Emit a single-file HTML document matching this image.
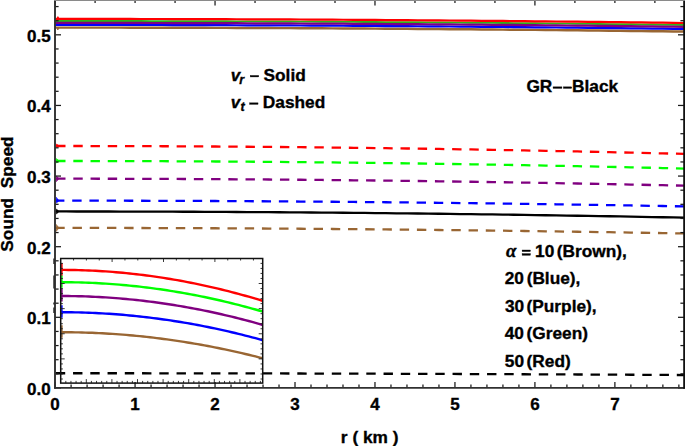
<!DOCTYPE html>
<html><head><meta charset="utf-8"><style>html,body{margin:0;padding:0;background:#fff;}svg{display:block;}</style></head>
<body><svg width="685" height="446" viewBox="0 0 685 446">
<rect width="685" height="446" fill="#fff"/>
<g><polyline points="55.50,27.60 66.15,27.60 76.81,27.60 87.46,27.61 98.11,27.62 108.76,27.63 119.42,27.64 130.07,27.66 140.72,27.67 151.37,27.69 162.03,27.71 172.68,27.74 183.33,27.76 193.98,27.79 204.64,27.82 215.29,27.86 225.94,27.89 236.59,27.93 247.25,27.97 257.90,28.01 268.55,28.06 279.20,28.10 289.86,28.15 300.51,28.20 311.16,28.26 321.81,28.31 332.47,28.37 343.12,28.43 353.77,28.49 364.42,28.56 375.08,28.62 385.73,28.69 396.38,28.77 407.03,28.84 417.69,28.92 428.34,28.99 438.99,29.07 449.64,29.16 460.30,29.24 470.95,29.33 481.60,29.42 492.25,29.51 502.91,29.61 513.56,29.70 524.21,29.80 534.86,29.90 545.52,30.01 556.17,30.11 566.82,30.22 577.47,30.33 588.13,30.44 598.78,30.56 609.43,30.68 620.08,30.79 630.74,30.92 641.39,31.04 652.04,31.17 662.69,31.29 673.35,31.43 684.00,31.56" fill="none" stroke="#996633" stroke-width="2.45"/><polyline points="55.50,24.90 66.15,24.90 76.81,24.90 87.46,24.91 98.11,24.92 108.76,24.93 119.42,24.94 130.07,24.96 140.72,24.98 151.37,25.00 162.03,25.02 172.68,25.04 183.33,25.07 193.98,25.10 204.64,25.13 215.29,25.16 225.94,25.20 236.59,25.24 247.25,25.28 257.90,25.32 268.55,25.37 279.20,25.42 289.86,25.47 300.51,25.52 311.16,25.58 321.81,25.63 332.47,25.69 343.12,25.76 353.77,25.82 364.42,25.89 375.08,25.96 385.73,26.03 396.38,26.10 407.03,26.18 417.69,26.26 428.34,26.34 438.99,26.42 449.64,26.51 460.30,26.59 470.95,26.68 481.60,26.78 492.25,26.87 502.91,26.97 513.56,27.07 524.21,27.17 534.86,27.28 545.52,27.38 556.17,27.49 566.82,27.60 577.47,27.72 588.13,27.83 598.78,27.95 609.43,28.07 620.08,28.19 630.74,28.32 641.39,28.45 652.04,28.58 662.69,28.71 673.35,28.84 684.00,28.98" fill="none" stroke="#0000ff" stroke-width="2.2"/><polyline points="55.50,21.00 66.15,21.00 76.81,21.00 87.46,21.01 98.11,21.02 108.76,21.03 119.42,21.04 130.07,21.06 140.72,21.07 151.37,21.09 162.03,21.11 172.68,21.14 183.33,21.16 193.98,21.19 204.64,21.22 215.29,21.26 225.94,21.29 236.59,21.33 247.25,21.37 257.90,21.41 268.55,21.46 279.20,21.50 289.86,21.55 300.51,21.60 311.16,21.66 321.81,21.71 332.47,21.77 343.12,21.83 353.77,21.89 364.42,21.96 375.08,22.02 385.73,22.09 396.38,22.17 407.03,22.24 417.69,22.32 428.34,22.39 438.99,22.47 449.64,22.56 460.30,22.64 470.95,22.73 481.60,22.82 492.25,22.91 502.91,23.01 513.56,23.10 524.21,23.20 534.86,23.30 545.52,23.41 556.17,23.51 566.82,23.62 577.47,23.73 588.13,23.84 598.78,23.96 609.43,24.08 620.08,24.19 630.74,24.32 641.39,24.44 652.04,24.57 662.69,24.69 673.35,24.83 684.00,24.96" fill="none" stroke="#2cb418" stroke-width="1.9"/><polyline points="55.50,22.90 66.15,22.90 76.81,22.90 87.46,22.91 98.11,22.92 108.76,22.93 119.42,22.94 130.07,22.96 140.72,22.97 151.37,22.99 162.03,23.01 172.68,23.04 183.33,23.06 193.98,23.09 204.64,23.12 215.29,23.15 225.94,23.19 236.59,23.22 247.25,23.26 257.90,23.31 268.55,23.35 279.20,23.39 289.86,23.44 300.51,23.49 311.16,23.55 321.81,23.60 332.47,23.66 343.12,23.72 353.77,23.78 364.42,23.84 375.08,23.91 385.73,23.98 396.38,24.05 407.03,24.12 417.69,24.20 428.34,24.27 438.99,24.35 449.64,24.43 460.30,24.52 470.95,24.60 481.60,24.69 492.25,24.78 502.91,24.88 513.56,24.97 524.21,25.07 534.86,25.17 545.52,25.27 556.17,25.37 566.82,25.48 577.47,25.59 588.13,25.70 598.78,25.81 609.43,25.93 620.08,26.04 630.74,26.16 641.39,26.29 652.04,26.41 662.69,26.54 673.35,26.67 684.00,26.80" fill="none" stroke="#800080" stroke-width="2.2"/><polyline points="55.50,18.90 66.15,18.90 76.81,18.90 87.46,18.91 98.11,18.92 108.76,18.93 119.42,18.94 130.07,18.96 140.72,18.98 151.37,19.00 162.03,19.02 172.68,19.04 183.33,19.07 193.98,19.10 204.64,19.13 215.29,19.16 225.94,19.20 236.59,19.24 247.25,19.28 257.90,19.32 268.55,19.37 279.20,19.42 289.86,19.47 300.51,19.52 311.16,19.58 321.81,19.63 332.47,19.69 343.12,19.76 353.77,19.82 364.42,19.89 375.08,19.96 385.73,20.03 396.38,20.10 407.03,20.18 417.69,20.26 428.34,20.34 438.99,20.42 449.64,20.51 460.30,20.59 470.95,20.68 481.60,20.78 492.25,20.87 502.91,20.97 513.56,21.07 524.21,21.17 534.86,21.28 545.52,21.38 556.17,21.49 566.82,21.60 577.47,21.72 588.13,21.83 598.78,21.95 609.43,22.07 620.08,22.19 630.74,22.32 641.39,22.45 652.04,22.58 662.69,22.71 673.35,22.84 684.00,22.98" fill="none" stroke="#ff0000" stroke-width="2.2"/><polyline points="55.80,227.90 66.45,227.90 77.09,227.91 87.74,227.91 98.39,227.93 109.04,227.94 119.68,227.96 130.33,227.98 140.98,228.00 151.63,228.03 162.27,228.06 172.92,228.10 183.57,228.13 194.22,228.17 204.86,228.22 215.51,228.26 226.16,228.31 236.81,228.36 247.45,228.42 258.10,228.48 268.75,228.54 279.40,228.61 290.04,228.68 300.69,228.75 311.34,228.82 321.99,228.90 332.63,228.98 343.28,229.07 353.93,229.16 364.58,229.25 375.22,229.34 385.87,229.44 396.52,229.54 407.17,229.64 417.81,229.75 428.46,229.86 439.11,229.98 449.76,230.09 460.40,230.21 471.05,230.33 481.70,230.46 492.35,230.59 502.99,230.72 513.64,230.86 524.29,231.00 534.94,231.14 545.58,231.29 556.23,231.43 566.88,231.59 577.53,231.74 588.17,231.90 598.82,232.06 609.47,232.22 620.12,232.39 630.76,232.56 641.41,232.74 652.06,232.92 662.71,233.10 673.35,233.28 684.00,233.47" fill="none" stroke="#996633" stroke-width="2.3" stroke-dasharray="9.4 7.82" stroke-dashoffset="0.50"/><polyline points="55.80,200.65 66.45,200.65 77.09,200.66 87.74,200.67 98.39,200.68 109.04,200.69 119.68,200.71 130.33,200.73 140.98,200.76 151.63,200.79 162.27,200.82 172.92,200.85 183.57,200.89 194.22,200.93 204.86,200.98 215.51,201.02 226.16,201.08 236.81,201.13 247.45,201.19 258.10,201.25 268.75,201.31 279.40,201.38 290.04,201.45 300.69,201.53 311.34,201.60 321.99,201.69 332.63,201.77 343.28,201.86 353.93,201.95 364.58,202.04 375.22,202.14 385.87,202.24 396.52,202.35 407.17,202.45 417.81,202.56 428.46,202.68 439.11,202.79 449.76,202.91 460.40,203.04 471.05,203.17 481.70,203.30 492.35,203.43 502.99,203.57 513.64,203.71 524.29,203.85 534.94,204.00 545.58,204.15 556.23,204.30 566.88,204.46 577.53,204.62 588.17,204.78 598.82,204.95 609.47,205.12 620.12,205.29 630.76,205.47 641.41,205.65 652.06,205.83 662.71,206.02 673.35,206.21 684.00,206.40" fill="none" stroke="#0000ff" stroke-width="2.3" stroke-dasharray="9.4 7.82" stroke-dashoffset="0.80"/><polyline points="55.80,178.70 66.45,178.70 77.09,178.71 87.74,178.72 98.39,178.73 109.04,178.75 119.68,178.77 130.33,178.80 140.98,178.83 151.63,178.86 162.27,178.90 172.92,178.95 183.57,178.99 194.22,179.04 204.86,179.10 215.51,179.15 226.16,179.22 236.81,179.28 247.45,179.35 258.10,179.43 268.75,179.51 279.40,179.59 290.04,179.68 300.69,179.77 311.34,179.86 321.99,179.96 332.63,180.06 343.28,180.17 353.93,180.28 364.58,180.39 375.22,180.51 385.87,180.63 396.52,180.76 407.17,180.89 417.81,181.02 428.46,181.16 439.11,181.31 449.76,181.45 460.40,181.60 471.05,181.76 481.70,181.92 492.35,182.08 502.99,182.24 513.64,182.42 524.29,182.59 534.94,182.77 545.58,182.95 556.23,183.14 566.88,183.33 577.53,183.52 588.17,183.72 598.82,183.92 609.47,184.13 620.12,184.34 630.76,184.56 641.41,184.77 652.06,185.00 662.71,185.22 673.35,185.45 684.00,185.69" fill="none" stroke="#800080" stroke-width="2.3" stroke-dasharray="9.4 7.82" stroke-dashoffset="-0.30"/><polyline points="55.80,161.00 66.45,161.00 77.09,161.01 87.74,161.02 98.39,161.04 109.04,161.06 119.68,161.08 130.33,161.11 140.98,161.14 151.63,161.18 162.27,161.22 172.92,161.26 183.57,161.31 194.22,161.37 204.86,161.43 215.51,161.49 226.16,161.56 236.81,161.63 247.45,161.71 258.10,161.79 268.75,161.87 279.40,161.96 290.04,162.05 300.69,162.15 311.34,162.25 321.99,162.36 332.63,162.47 343.28,162.58 353.93,162.70 364.58,162.83 375.22,162.95 385.87,163.09 396.52,163.22 407.17,163.36 417.81,163.51 428.46,163.66 439.11,163.81 449.76,163.97 460.40,164.13 471.05,164.30 481.70,164.47 492.35,164.65 502.99,164.83 513.64,165.01 524.29,165.20 534.94,165.39 545.58,165.59 556.23,165.79 566.88,166.00 577.53,166.21 588.17,166.42 598.82,166.64 609.47,166.86 620.12,167.09 630.76,167.32 641.41,167.56 652.06,167.80 662.71,168.04 673.35,168.29 684.00,168.55" fill="none" stroke="#00ff00" stroke-width="2.3" stroke-dasharray="9.4 7.82" stroke-dashoffset="-0.30"/><polyline points="55.80,146.00 66.45,146.00 77.09,146.01 87.74,146.02 98.39,146.04 109.04,146.06 119.68,146.08 130.33,146.11 140.98,146.15 151.63,146.19 162.27,146.23 172.92,146.28 183.57,146.33 194.22,146.39 204.86,146.45 215.51,146.52 226.16,146.59 236.81,146.66 247.45,146.74 258.10,146.82 268.75,146.91 279.40,147.01 290.04,147.10 300.69,147.21 311.34,147.31 321.99,147.43 332.63,147.54 343.28,147.66 353.93,147.79 364.58,147.92 375.22,148.05 385.87,148.19 396.52,148.33 407.17,148.48 417.81,148.63 428.46,148.79 439.11,148.95 449.76,149.12 460.40,149.29 471.05,149.46 481.70,149.64 492.35,149.83 502.99,150.02 513.64,150.21 524.29,150.41 534.94,150.61 545.58,150.82 556.23,151.03 566.88,151.24 577.53,151.46 588.17,151.69 598.82,151.92 609.47,152.15 620.12,152.39 630.76,152.63 641.41,152.88 652.06,153.13 662.71,153.39 673.35,153.65 684.00,153.92" fill="none" stroke="#ff0000" stroke-width="2.3" stroke-dasharray="9.4 7.82" stroke-dashoffset="-0.30"/><path d="M58.3,227.0 L56.3,224.4 L56.3,231.4 L58.3,228.8Z" fill="#996633" stroke="#996633" stroke-width="0.5"/><path d="M58.3,199.8 L56.3,197.2 L56.3,203.1 L58.3,201.6Z" fill="#0000ff" stroke="#0000ff" stroke-width="0.5"/><path d="M58.3,177.8 L56.3,176.0 L56.3,181.7 L58.3,179.6Z" fill="#800080" stroke="#800080" stroke-width="0.5"/><path d="M58.3,160.1 L56.3,158.5 L56.3,163.0 L58.3,161.9Z" fill="#00ff00" stroke="#00ff00" stroke-width="0.5"/><path d="M58.3,145.1 L56.3,144.0 L56.3,147.0 L58.3,146.9Z" fill="#ff0000" stroke="#ff0000" stroke-width="0.5"/><path d="M58.3,210.6 L56.3,209 L56.3,214 L58.3,212.4Z" fill="#000" stroke="#000" stroke-width="0.5"/><path d="M56.6,21 L57.2,16.6 L58.4,16.6 L59.5,19Z" fill="#ff0000"/><path d="M56.5,27 L57.2,30 L58.2,30 L59.5,28Z" fill="#996633"/><polyline points="55.50,211.47 66.15,211.47 76.81,211.48 87.46,211.49 98.11,211.50 108.76,211.51 119.42,211.53 130.07,211.56 140.72,211.58 151.37,211.61 162.03,211.65 172.68,211.69 183.33,211.73 193.98,211.77 204.64,211.82 215.29,211.87 225.94,211.93 236.59,211.98 247.25,212.05 257.90,212.11 268.55,212.18 279.20,212.25 289.86,212.33 300.51,212.41 311.16,212.49 321.81,212.58 332.47,212.67 343.12,212.77 353.77,212.86 364.42,212.96 375.08,213.07 385.73,213.18 396.38,213.29 407.03,213.40 417.69,213.52 428.34,213.65 438.99,213.77 449.64,213.90 460.30,214.03 470.95,214.17 481.60,214.31 492.25,214.46 502.91,214.60 513.56,214.75 524.21,214.91 534.86,215.07 545.52,215.23 556.17,215.39 566.82,215.56 577.47,215.73 588.13,215.91 598.78,216.09 609.43,216.27 620.08,216.46 630.74,216.65 641.39,216.84 652.04,217.04 662.69,217.24 673.35,217.44 684.00,217.65" fill="none" stroke="#000" stroke-width="2.3"/><polyline points="55.80,373.24 66.45,373.24 77.09,373.24 87.74,373.24 98.39,373.25 109.04,373.25 119.68,373.26 130.33,373.27 140.98,373.27 151.63,373.28 162.27,373.29 172.92,373.30 183.57,373.32 194.22,373.33 204.86,373.34 215.51,373.36 226.16,373.37 236.81,373.39 247.45,373.41 258.10,373.43 268.75,373.45 279.40,373.47 290.04,373.49 300.69,373.52 311.34,373.54 321.99,373.57 332.63,373.59 343.28,373.62 353.93,373.65 364.58,373.68 375.22,373.71 385.87,373.74 396.52,373.77 407.17,373.81 417.81,373.84 428.46,373.88 439.11,373.91 449.76,373.95 460.40,373.99 471.05,374.03 481.70,374.07 492.35,374.11 502.99,374.16 513.64,374.20 524.29,374.25 534.94,374.29 545.58,374.34 556.23,374.39 566.88,374.44 577.53,374.49 588.17,374.54 598.82,374.59 609.47,374.64 620.12,374.70 630.76,374.75 641.41,374.81 652.06,374.87 662.71,374.93 673.35,374.99 684.00,375.05" fill="none" stroke="#000" stroke-width="2.3" stroke-dasharray="9.4 7.85"/></g>
<g stroke="#1a1a1a" stroke-width="1.25"><line x1="55" y1="387.95" x2="61.00" y2="387.95"/><line x1="684" y1="387.95" x2="678.00" y2="387.95"/><line x1="55" y1="373.82" x2="58.60" y2="373.82"/><line x1="684" y1="373.82" x2="680.40" y2="373.82"/><line x1="55" y1="359.70" x2="58.60" y2="359.70"/><line x1="684" y1="359.70" x2="680.40" y2="359.70"/><line x1="55" y1="345.57" x2="58.60" y2="345.57"/><line x1="684" y1="345.57" x2="680.40" y2="345.57"/><line x1="55" y1="331.45" x2="58.60" y2="331.45"/><line x1="684" y1="331.45" x2="680.40" y2="331.45"/><line x1="55" y1="317.32" x2="61.00" y2="317.32"/><line x1="684" y1="317.32" x2="678.00" y2="317.32"/><line x1="55" y1="303.20" x2="58.60" y2="303.20"/><line x1="684" y1="303.20" x2="680.40" y2="303.20"/><line x1="55" y1="289.07" x2="58.60" y2="289.07"/><line x1="684" y1="289.07" x2="680.40" y2="289.07"/><line x1="55" y1="274.95" x2="58.60" y2="274.95"/><line x1="684" y1="274.95" x2="680.40" y2="274.95"/><line x1="55" y1="260.82" x2="58.60" y2="260.82"/><line x1="684" y1="260.82" x2="680.40" y2="260.82"/><line x1="55" y1="246.70" x2="61.00" y2="246.70"/><line x1="684" y1="246.70" x2="678.00" y2="246.70"/><line x1="55" y1="232.57" x2="58.60" y2="232.57"/><line x1="684" y1="232.57" x2="680.40" y2="232.57"/><line x1="55" y1="218.45" x2="58.60" y2="218.45"/><line x1="684" y1="218.45" x2="680.40" y2="218.45"/><line x1="55" y1="204.32" x2="58.60" y2="204.32"/><line x1="684" y1="204.32" x2="680.40" y2="204.32"/><line x1="55" y1="190.20" x2="58.60" y2="190.20"/><line x1="684" y1="190.20" x2="680.40" y2="190.20"/><line x1="55" y1="176.07" x2="61.00" y2="176.07"/><line x1="684" y1="176.07" x2="678.00" y2="176.07"/><line x1="55" y1="161.95" x2="58.60" y2="161.95"/><line x1="684" y1="161.95" x2="680.40" y2="161.95"/><line x1="55" y1="147.82" x2="58.60" y2="147.82"/><line x1="684" y1="147.82" x2="680.40" y2="147.82"/><line x1="55" y1="133.70" x2="58.60" y2="133.70"/><line x1="684" y1="133.70" x2="680.40" y2="133.70"/><line x1="55" y1="119.57" x2="58.60" y2="119.57"/><line x1="684" y1="119.57" x2="680.40" y2="119.57"/><line x1="55" y1="105.45" x2="61.00" y2="105.45"/><line x1="684" y1="105.45" x2="678.00" y2="105.45"/><line x1="55" y1="91.32" x2="58.60" y2="91.32"/><line x1="684" y1="91.32" x2="680.40" y2="91.32"/><line x1="55" y1="77.20" x2="58.60" y2="77.20"/><line x1="684" y1="77.20" x2="680.40" y2="77.20"/><line x1="55" y1="63.07" x2="58.60" y2="63.07"/><line x1="684" y1="63.07" x2="680.40" y2="63.07"/><line x1="55" y1="48.95" x2="58.60" y2="48.95"/><line x1="684" y1="48.95" x2="680.40" y2="48.95"/><line x1="55" y1="34.82" x2="61.00" y2="34.82"/><line x1="684" y1="34.82" x2="678.00" y2="34.82"/><line x1="55" y1="20.70" x2="58.60" y2="20.70"/><line x1="684" y1="20.70" x2="680.40" y2="20.70"/><line x1="55" y1="6.57" x2="58.60" y2="6.57"/><line x1="684" y1="6.57" x2="680.40" y2="6.57"/><line x1="55.10" y1="387.85" x2="55.10" y2="382.05"/><line x1="71.09" y1="387.85" x2="71.09" y2="384.45"/><line x1="87.09" y1="387.85" x2="87.09" y2="384.45"/><line x1="103.08" y1="387.85" x2="103.08" y2="384.45"/><line x1="119.08" y1="387.85" x2="119.08" y2="384.45"/><line x1="135.07" y1="387.85" x2="135.07" y2="382.05"/><line x1="151.06" y1="387.85" x2="151.06" y2="384.45"/><line x1="167.06" y1="387.85" x2="167.06" y2="384.45"/><line x1="183.05" y1="387.85" x2="183.05" y2="384.45"/><line x1="199.05" y1="387.85" x2="199.05" y2="384.45"/><line x1="215.04" y1="387.85" x2="215.04" y2="382.05"/><line x1="231.03" y1="387.85" x2="231.03" y2="384.45"/><line x1="247.03" y1="387.85" x2="247.03" y2="384.45"/><line x1="263.02" y1="387.85" x2="263.02" y2="384.45"/><line x1="279.02" y1="387.85" x2="279.02" y2="384.45"/><line x1="295.01" y1="387.85" x2="295.01" y2="382.05"/><line x1="311.00" y1="387.85" x2="311.00" y2="384.45"/><line x1="327.00" y1="387.85" x2="327.00" y2="384.45"/><line x1="342.99" y1="387.85" x2="342.99" y2="384.45"/><line x1="358.99" y1="387.85" x2="358.99" y2="384.45"/><line x1="374.98" y1="387.85" x2="374.98" y2="382.05"/><line x1="390.97" y1="387.85" x2="390.97" y2="384.45"/><line x1="406.97" y1="387.85" x2="406.97" y2="384.45"/><line x1="422.96" y1="387.85" x2="422.96" y2="384.45"/><line x1="438.96" y1="387.85" x2="438.96" y2="384.45"/><line x1="454.95" y1="387.85" x2="454.95" y2="382.05"/><line x1="470.94" y1="387.85" x2="470.94" y2="384.45"/><line x1="486.94" y1="387.85" x2="486.94" y2="384.45"/><line x1="502.93" y1="387.85" x2="502.93" y2="384.45"/><line x1="518.93" y1="387.85" x2="518.93" y2="384.45"/><line x1="534.92" y1="387.85" x2="534.92" y2="382.05"/><line x1="550.91" y1="387.85" x2="550.91" y2="384.45"/><line x1="566.91" y1="387.85" x2="566.91" y2="384.45"/><line x1="582.90" y1="387.85" x2="582.90" y2="384.45"/><line x1="598.90" y1="387.85" x2="598.90" y2="384.45"/><line x1="614.89" y1="387.85" x2="614.89" y2="382.05"/><line x1="630.88" y1="387.85" x2="630.88" y2="384.45"/><line x1="646.88" y1="387.85" x2="646.88" y2="384.45"/><line x1="662.87" y1="387.85" x2="662.87" y2="384.45"/><line x1="678.87" y1="387.85" x2="678.87" y2="384.45"/><line x1="55.10" y1="0" x2="55.10" y2="5.60"/><line x1="95.09" y1="0" x2="95.09" y2="3.00"/><line x1="135.07" y1="0" x2="135.07" y2="3.00"/><line x1="175.06" y1="0" x2="175.06" y2="3.00"/><line x1="215.04" y1="0" x2="215.04" y2="5.60"/><line x1="255.03" y1="0" x2="255.03" y2="3.00"/><line x1="295.01" y1="0" x2="295.01" y2="3.00"/><line x1="335.00" y1="0" x2="335.00" y2="3.00"/><line x1="374.98" y1="0" x2="374.98" y2="5.60"/><line x1="414.97" y1="0" x2="414.97" y2="3.00"/><line x1="454.95" y1="0" x2="454.95" y2="3.00"/><line x1="494.94" y1="0" x2="494.94" y2="3.00"/><line x1="534.92" y1="0" x2="534.92" y2="5.60"/><line x1="574.90" y1="0" x2="574.90" y2="3.00"/><line x1="614.89" y1="0" x2="614.89" y2="3.00"/><line x1="654.88" y1="0" x2="654.88" y2="3.00"/></g>
<g stroke="#303030" stroke-width="1.9" fill="none">
<line x1="55" y1="0" x2="55" y2="388.8"/>
<line x1="54.1" y1="387.85" x2="685" y2="387.85"/>
<line x1="684.1" y1="0" x2="684.1" y2="388.8" stroke="#111" stroke-width="1.8"/>
<line x1="54.1" y1="0.5" x2="685" y2="0.5" stroke="#8a8a8a" stroke-width="1"/>
</g>
<g><polyline points="61.50,332.20 64.90,332.21 68.31,332.23 71.71,332.27 75.11,332.33 78.52,332.40 81.92,332.48 85.32,332.58 88.73,332.69 92.13,332.82 95.53,332.96 98.94,333.12 102.34,333.30 105.74,333.48 109.15,333.69 112.55,333.90 115.95,334.14 119.36,334.38 122.76,334.64 126.16,334.92 129.57,335.21 132.97,335.52 136.37,335.84 139.78,336.18 143.18,336.53 146.58,336.89 149.99,337.28 153.39,337.67 156.79,338.08 160.20,338.51 163.60,338.95 167.01,339.40 170.41,339.87 173.81,340.36 177.22,340.86 180.62,341.37 184.02,341.90 187.43,342.44 190.83,343.00 194.23,343.58 197.64,344.17 201.04,344.77 204.44,345.39 207.85,346.02 211.25,346.67 214.65,347.33 218.06,348.01 221.46,348.70 224.86,349.41 228.27,350.13 231.67,350.87 235.07,351.62 238.48,352.39 241.88,353.17 245.28,353.97 248.69,354.78 252.09,355.60 255.49,356.44 258.90,357.30 262.30,358.17" fill="none" stroke="#996633" stroke-width="2.4"/><line x1="61.9" y1="325.2" x2="61.9" y2="337.7" stroke="#996633" stroke-width="1.5"/><polyline points="61.50,312.20 64.90,312.21 68.31,312.24 71.71,312.28 75.11,312.34 78.52,312.41 81.92,312.50 85.32,312.61 88.73,312.73 92.13,312.87 95.53,313.02 98.94,313.19 102.34,313.38 105.74,313.58 109.15,313.79 112.55,314.03 115.95,314.28 119.36,314.54 122.76,314.82 126.16,315.12 129.57,315.43 132.97,315.76 136.37,316.11 139.78,316.47 143.18,316.84 146.58,317.24 149.99,317.64 153.39,318.07 156.79,318.51 160.20,318.97 163.60,319.44 167.01,319.93 170.41,320.43 173.81,320.95 177.22,321.49 180.62,322.04 184.02,322.61 187.43,323.19 190.83,323.79 194.23,324.40 197.64,325.04 201.04,325.68 204.44,326.35 207.85,327.03 211.25,327.72 214.65,328.43 218.06,329.16 221.46,329.90 224.86,330.66 228.27,331.44 231.67,332.23 235.07,333.03 238.48,333.86 241.88,334.70 245.28,335.55 248.69,336.42 252.09,337.31 255.49,338.21 258.90,339.13 262.30,340.06" fill="none" stroke="#0000ff" stroke-width="2.4"/><line x1="61.9" y1="305.2" x2="61.9" y2="317.7" stroke="#0000ff" stroke-width="1.5"/><polyline points="61.50,296.00 64.90,296.01 68.31,296.04 71.71,296.08 75.11,296.14 78.52,296.22 81.92,296.31 85.32,296.42 88.73,296.55 92.13,296.69 95.53,296.85 98.94,297.02 102.34,297.21 105.74,297.42 109.15,297.65 112.55,297.89 115.95,298.14 119.36,298.42 122.76,298.71 126.16,299.01 129.57,299.34 132.97,299.68 136.37,300.03 139.78,300.40 143.18,300.79 146.58,301.20 149.99,301.62 153.39,302.06 156.79,302.51 160.20,302.98 163.60,303.47 167.01,303.97 170.41,304.49 173.81,305.03 177.22,305.58 180.62,306.15 184.02,306.74 187.43,307.34 190.83,307.96 194.23,308.60 197.64,309.25 201.04,309.92 204.44,310.60 207.85,311.30 211.25,312.02 214.65,312.75 218.06,313.51 221.46,314.27 224.86,315.06 228.27,315.86 231.67,316.67 235.07,317.50 238.48,318.35 241.88,319.22 245.28,320.10 248.69,321.00 252.09,321.91 255.49,322.85 258.90,323.79 262.30,324.76" fill="none" stroke="#800080" stroke-width="2.4"/><line x1="61.9" y1="289.0" x2="61.9" y2="301.5" stroke="#800080" stroke-width="1.5"/><polyline points="61.50,282.20 64.90,282.21 68.31,282.24 71.71,282.28 75.11,282.34 78.52,282.42 81.92,282.52 85.32,282.63 88.73,282.76 92.13,282.90 95.53,283.06 98.94,283.24 102.34,283.43 105.74,283.65 109.15,283.87 112.55,284.12 115.95,284.38 119.36,284.66 122.76,284.95 126.16,285.27 129.57,285.59 132.97,285.94 136.37,286.30 139.78,286.68 143.18,287.08 146.58,287.49 149.99,287.92 153.39,288.36 156.79,288.83 160.20,289.30 163.60,289.80 167.01,290.31 170.41,290.84 173.81,291.39 177.22,291.95 180.62,292.53 184.02,293.13 187.43,293.74 190.83,294.37 194.23,295.02 197.64,295.68 201.04,296.36 204.44,297.05 207.85,297.77 211.25,298.50 214.65,299.24 218.06,300.01 221.46,300.79 224.86,301.58 228.27,302.40 231.67,303.23 235.07,304.08 238.48,304.94 241.88,305.82 245.28,306.72 248.69,307.63 252.09,308.56 255.49,309.51 258.90,310.47 262.30,311.45" fill="none" stroke="#00ff00" stroke-width="2.4"/><line x1="61.9" y1="275.2" x2="61.9" y2="287.7" stroke="#00ff00" stroke-width="1.5"/><polyline points="61.50,269.90 64.90,269.91 68.31,269.94 71.71,269.99 75.11,270.05 78.52,270.13 81.92,270.23 85.32,270.35 88.73,270.49 92.13,270.64 95.53,270.81 98.94,271.00 102.34,271.20 105.74,271.42 109.15,271.66 112.55,271.92 115.95,272.20 119.36,272.49 122.76,272.80 126.16,273.13 129.57,273.48 132.97,273.84 136.37,274.22 139.78,274.62 143.18,275.04 146.58,275.48 149.99,275.93 153.39,276.40 156.79,276.89 160.20,277.39 163.60,277.91 167.01,278.45 170.41,279.01 173.81,279.59 177.22,280.18 180.62,280.79 184.02,281.42 187.43,282.07 190.83,282.73 194.23,283.41 197.64,284.11 201.04,284.83 204.44,285.56 207.85,286.32 211.25,287.08 214.65,287.87 218.06,288.68 221.46,289.50 224.86,290.34 228.27,291.20 231.67,292.07 235.07,292.97 238.48,293.88 241.88,294.81 245.28,295.75 248.69,296.72 252.09,297.70 255.49,298.70 258.90,299.71 262.30,300.75" fill="none" stroke="#ff0000" stroke-width="2.4"/><line x1="61.9" y1="262.9" x2="61.9" y2="275.4" stroke="#ff0000" stroke-width="1.5"/></g>
<g stroke="#1e1e1e" stroke-width="1.2" fill="none"><path d="M53.9,258.6 L53.9,264"/><path d="M53.9,275.6 L53.9,288.6"/><path d="M53.9,302.6 L53.9,304.6 M53.9,307.6 L53.9,313"/></g>
<g stroke="#222" stroke-width="0.9"><line x1="65.82" y1="383.1" x2="65.82" y2="380.90"/><line x1="70.94" y1="383.1" x2="70.94" y2="380.90"/><line x1="76.06" y1="383.1" x2="76.06" y2="380.90"/><line x1="81.18" y1="383.1" x2="81.18" y2="380.90"/><line x1="86.30" y1="383.1" x2="86.30" y2="379.10"/><line x1="91.42" y1="383.1" x2="91.42" y2="380.90"/><line x1="96.54" y1="383.1" x2="96.54" y2="380.90"/><line x1="101.66" y1="383.1" x2="101.66" y2="380.90"/><line x1="106.78" y1="383.1" x2="106.78" y2="380.90"/><line x1="111.90" y1="383.1" x2="111.90" y2="379.10"/><line x1="117.02" y1="383.1" x2="117.02" y2="380.90"/><line x1="122.14" y1="383.1" x2="122.14" y2="380.90"/><line x1="127.26" y1="383.1" x2="127.26" y2="380.90"/><line x1="132.38" y1="383.1" x2="132.38" y2="380.90"/><line x1="137.50" y1="383.1" x2="137.50" y2="379.10"/><line x1="142.62" y1="383.1" x2="142.62" y2="380.90"/><line x1="147.74" y1="383.1" x2="147.74" y2="380.90"/><line x1="152.86" y1="383.1" x2="152.86" y2="380.90"/><line x1="157.98" y1="383.1" x2="157.98" y2="380.90"/><line x1="163.10" y1="383.1" x2="163.10" y2="379.10"/><line x1="168.22" y1="383.1" x2="168.22" y2="380.90"/><line x1="173.34" y1="383.1" x2="173.34" y2="380.90"/><line x1="178.46" y1="383.1" x2="178.46" y2="380.90"/><line x1="183.58" y1="383.1" x2="183.58" y2="380.90"/><line x1="188.70" y1="383.1" x2="188.70" y2="379.10"/><line x1="193.82" y1="383.1" x2="193.82" y2="380.90"/><line x1="198.94" y1="383.1" x2="198.94" y2="380.90"/><line x1="204.06" y1="383.1" x2="204.06" y2="380.90"/><line x1="209.18" y1="383.1" x2="209.18" y2="380.90"/><line x1="214.30" y1="383.1" x2="214.30" y2="379.10"/><line x1="219.42" y1="383.1" x2="219.42" y2="380.90"/><line x1="224.54" y1="383.1" x2="224.54" y2="380.90"/><line x1="229.66" y1="383.1" x2="229.66" y2="380.90"/><line x1="234.78" y1="383.1" x2="234.78" y2="380.90"/><line x1="239.90" y1="383.1" x2="239.90" y2="379.10"/><line x1="245.02" y1="383.1" x2="245.02" y2="380.90"/><line x1="250.14" y1="383.1" x2="250.14" y2="380.90"/><line x1="255.26" y1="383.1" x2="255.26" y2="380.90"/><line x1="260.38" y1="383.1" x2="260.38" y2="380.90"/><line x1="73.55" y1="258.5" x2="73.55" y2="260.50"/><line x1="86.40" y1="258.5" x2="86.40" y2="260.50"/><line x1="99.25" y1="258.5" x2="99.25" y2="260.50"/><line x1="112.10" y1="258.5" x2="112.10" y2="262.00"/><line x1="124.95" y1="258.5" x2="124.95" y2="260.50"/><line x1="137.80" y1="258.5" x2="137.80" y2="260.50"/><line x1="150.65" y1="258.5" x2="150.65" y2="260.50"/><line x1="163.50" y1="258.5" x2="163.50" y2="262.00"/><line x1="176.35" y1="258.5" x2="176.35" y2="260.50"/><line x1="189.20" y1="258.5" x2="189.20" y2="260.50"/><line x1="202.05" y1="258.5" x2="202.05" y2="260.50"/><line x1="214.90" y1="258.5" x2="214.90" y2="262.00"/><line x1="227.75" y1="258.5" x2="227.75" y2="260.50"/><line x1="240.60" y1="258.5" x2="240.60" y2="260.50"/><line x1="253.45" y1="258.5" x2="253.45" y2="260.50"/><line x1="60.7" y1="263.40" x2="62.90" y2="263.40"/><line x1="262.7" y1="263.40" x2="260.50" y2="263.40"/><line x1="60.7" y1="268.43" x2="62.90" y2="268.43"/><line x1="262.7" y1="268.43" x2="260.50" y2="268.43"/><line x1="60.7" y1="273.45" x2="62.90" y2="273.45"/><line x1="262.7" y1="273.45" x2="260.50" y2="273.45"/><line x1="60.7" y1="278.48" x2="62.90" y2="278.48"/><line x1="262.7" y1="278.48" x2="260.50" y2="278.48"/><line x1="60.7" y1="283.50" x2="64.70" y2="283.50"/><line x1="262.7" y1="283.50" x2="258.70" y2="283.50"/><line x1="60.7" y1="288.53" x2="62.90" y2="288.53"/><line x1="262.7" y1="288.53" x2="260.50" y2="288.53"/><line x1="60.7" y1="293.56" x2="62.90" y2="293.56"/><line x1="262.7" y1="293.56" x2="260.50" y2="293.56"/><line x1="60.7" y1="298.58" x2="62.90" y2="298.58"/><line x1="262.7" y1="298.58" x2="260.50" y2="298.58"/><line x1="60.7" y1="303.61" x2="62.90" y2="303.61"/><line x1="262.7" y1="303.61" x2="260.50" y2="303.61"/><line x1="60.7" y1="308.63" x2="64.70" y2="308.63"/><line x1="262.7" y1="308.63" x2="258.70" y2="308.63"/><line x1="60.7" y1="313.66" x2="62.90" y2="313.66"/><line x1="262.7" y1="313.66" x2="260.50" y2="313.66"/><line x1="60.7" y1="318.69" x2="62.90" y2="318.69"/><line x1="262.7" y1="318.69" x2="260.50" y2="318.69"/><line x1="60.7" y1="323.71" x2="62.90" y2="323.71"/><line x1="262.7" y1="323.71" x2="260.50" y2="323.71"/><line x1="60.7" y1="328.74" x2="62.90" y2="328.74"/><line x1="262.7" y1="328.74" x2="260.50" y2="328.74"/><line x1="60.7" y1="333.76" x2="64.70" y2="333.76"/><line x1="262.7" y1="333.76" x2="258.70" y2="333.76"/><line x1="60.7" y1="338.79" x2="62.90" y2="338.79"/><line x1="262.7" y1="338.79" x2="260.50" y2="338.79"/><line x1="60.7" y1="343.82" x2="62.90" y2="343.82"/><line x1="262.7" y1="343.82" x2="260.50" y2="343.82"/><line x1="60.7" y1="348.84" x2="62.90" y2="348.84"/><line x1="262.7" y1="348.84" x2="260.50" y2="348.84"/><line x1="60.7" y1="353.87" x2="62.90" y2="353.87"/><line x1="262.7" y1="353.87" x2="260.50" y2="353.87"/><line x1="60.7" y1="358.89" x2="64.70" y2="358.89"/><line x1="262.7" y1="358.89" x2="258.70" y2="358.89"/><line x1="60.7" y1="363.92" x2="62.90" y2="363.92"/><line x1="262.7" y1="363.92" x2="260.50" y2="363.92"/><line x1="60.7" y1="368.95" x2="62.90" y2="368.95"/><line x1="262.7" y1="368.95" x2="260.50" y2="368.95"/><line x1="60.7" y1="373.97" x2="62.90" y2="373.97"/><line x1="262.7" y1="373.97" x2="260.50" y2="373.97"/><line x1="60.7" y1="379.00" x2="62.90" y2="379.00"/><line x1="262.7" y1="379.00" x2="260.50" y2="379.00"/></g>
<rect x="60.7" y="258.5" width="202.00" height="124.60" fill="none" stroke="#111" stroke-width="1.5"/>
<g font-family="Liberation Sans, sans-serif" font-weight="bold" font-size="17" fill="#000" stroke="#000" stroke-width="0.35">
<g text-anchor="end">
<text x="50.7" y="41.72">0.5</text><text x="50.7" y="112.35">0.4</text><text x="50.7" y="182.97">0.3</text><text x="50.7" y="253.60">0.2</text><text x="50.7" y="324.22">0.1</text><text x="50.7" y="394.85">0.0</text>
</g>
<g text-anchor="middle">
<text x="55.1" y="410.2">0</text><text x="135.1" y="410.2">1</text><text x="215.0" y="410.2">2</text><text x="295.0" y="410.2">3</text><text x="375.0" y="410.2">4</text><text x="455.0" y="410.2">5</text><text x="534.9" y="410.2">6</text><text x="614.9" y="410.2">7</text>
</g>
<text x="340.86" y="442.5" font-size="17.3">r ( km )</text>
<text transform="translate(12.9,251.7) rotate(-90)" font-size="17.3">Sound</text><text transform="translate(12.9,188.3) rotate(-90)" font-size="17.3">Speed</text>
<text x="230.69" y="80.8" font-style="italic">v</text><text x="239.29" y="83.5" font-style="italic" font-size="12.5">r</text><rect x="250.25" y="75.45" width="8.5" height="1.5"/><text x="263.50" y="80.8" font-size="17.3">Solid</text>
<text x="230.69" y="107.8" font-style="italic">v</text><text x="240.38" y="110.6" font-style="italic" font-size="12.5">t</text><rect x="249.55" y="102.85" width="8.5" height="1.5"/><text x="262.84" y="107.8" font-size="17.3">Dashed</text>
<text x="526.39" y="91.9" font-size="17.3">GR</text><rect x="553.05" y="86.85" width="8.9" height="1.55"/><rect x="563.35" y="86.85" width="8.4" height="1.55"/><text x="572.04" y="91.9" font-size="17.3">Black</text>
<text x="506" y="256.65" font-style="italic" font-family="Liberation Serif, serif" font-size="18.7">α</text><rect x="522.1" y="250.0" width="8.35" height="1.6"/><rect x="522.1" y="253.6" width="8.35" height="1.7"/><text x="535.11" y="256.65" font-size="17.3">10</text><text x="556.84" y="256.65" font-size="17.3">(Brown),</text>
<text x="504.70" y="284.1" font-size="17.3">20</text><text x="526.64" y="284.1" font-size="17.3">(Blue),</text>
<text x="504.90" y="311.55" font-size="17.3">30</text><text x="526.54" y="311.55" font-size="17.3">(Purple),</text>
<text x="504.64" y="339.0" font-size="17.3">40</text><text x="526.54" y="339.0" font-size="17.3">(Green)</text>
<text x="504.77" y="366.5" font-size="17.3">50</text><text x="526.54" y="366.5" font-size="17.3">(Red)</text>
</g>
</svg></body></html>
